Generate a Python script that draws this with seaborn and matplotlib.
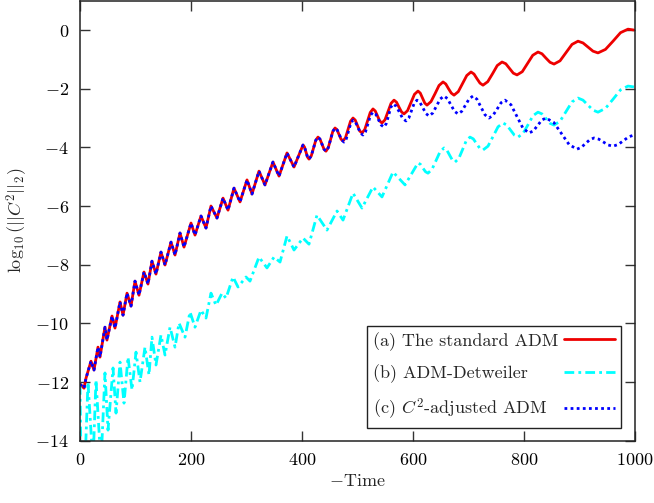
import numpy as np
import pandas as pd
import matplotlib
matplotlib.use("Agg")
import matplotlib.pyplot as plt
import seaborn as sns

# ---- data ----
# (a) standard ADM
t_a = [0, 7.2, 10.8, 19.8, 25.2, 32.4, 36.0, 45.0, 48.6, 57.7, 63.1, 72.1, 77.5, 84.7, 91.9,
       99.1, 106.3, 115.3, 122.5, 129.7, 136.9, 145.9, 153.2, 164.0, 171.2, 180.2, 187.4,
       200.0, 207.2, 218.0, 227.0, 236.0, 246.8, 257.7, 266.7, 277.5, 288.3, 300.9, 309.9,
       322.5, 333.3, 347.7, 358.6, 373.0, 385.6,
       401.8, 404.5, 407.2, 409.9, 412.6, 416.7, 420.7, 424.8, 428.8, 432.4, 436.0, 439.6,
       443.2, 447.3, 451.4, 455.4, 459.5, 463.1, 466.7, 470.3, 473.9, 478.4, 482.9, 487.4,
       491.9, 495.9, 500.0, 504.0, 508.1, 513.1, 518.0, 523.0, 527.9, 532.0, 536.0, 540.1,
       544.1, 549.5, 555.0, 560.4, 565.8, 570.3, 574.8, 579.3, 583.8, 590.1, 596.4, 602.7,
       609.0, 613.1, 617.1, 621.2, 625.2, 632.4, 639.7, 646.9, 654.1, 659.1, 664.0, 669.0,
       673.9, 681.6, 689.2, 696.9, 704.5, 709.9, 715.3, 720.7, 726.1, 734.7, 743.3, 751.8,
       760.4, 767.2, 773.9, 780.7, 787.4, 796.9, 806.3, 815.8, 825.2, 832.4, 839.7, 846.9,
       854.1, 864.9, 875.7, 886.5, 897.3, 906.3, 915.3, 924.3, 933.3, 946.8, 960.4, 973.9,
       987.4, 998.2]
c_a = [-12.07, -12.21, -11.87, -11.29, -11.59, -10.81, -11.15, -10.13, -10.57, -9.75, -10.16,
       -9.27, -9.72, -8.97, -9.41, -8.56, -9.04, -8.25, -8.66, -7.88, -8.32, -7.57, -8.01,
       -7.23, -7.67, -6.92, -7.40, -6.58, -6.99, -6.34, -6.75, -6.00, -6.41, -5.73, -6.14,
       -5.39, -5.86, -5.11, -5.59, -4.81, -5.28, -4.50, -4.98, -4.19, -4.67,
       -3.92, -3.99, -4.16, -4.33, -4.40, -4.29, -4.03, -3.76, -3.65, -3.72, -3.89, -4.06,
       -4.13, -4.01, -3.74, -3.46, -3.34, -3.40, -3.56, -3.72, -3.78, -3.67, -3.39, -3.11,
       -3.00, -3.07, -3.26, -3.44, -3.51, -3.39, -3.10, -2.81, -2.69, -2.76, -2.93, -3.10,
       -3.17, -3.06, -2.78, -2.50, -2.39, -2.46, -2.63, -2.79, -2.86, -2.75, -2.47, -2.19,
       -2.08, -2.15, -2.32, -2.49, -2.56, -2.44, -2.17, -1.89, -1.77, -1.84, -2.00, -2.15,
       -2.22, -2.10, -1.83, -1.55, -1.43, -1.50, -1.66, -1.81, -1.88, -1.76, -1.49, -1.21,
       -1.09, -1.15, -1.31, -1.47, -1.53, -1.42, -1.14, -0.86, -0.75, -0.81, -0.96, -1.10,
       -1.16, -1.05, -0.77, -0.49, -0.38, -0.44, -0.58, -0.72, -0.78, -0.66, -0.38, -0.09,
       0.03, 0.00]

# (b) ADM-Detweiler
t_b = [0, 1.8, 9.0, 14.4, 23.4, 28.8, 37.8, 45.0, 50.5, 59.5, 64.9, 72.1, 79.3, 86.5, 93.7,
       100.9, 108.1, 117.1, 124.3, 129.7, 136.9, 145.9, 153.2, 162.2, 171.2, 178.4, 189.2,
       198.2, 207.2, 218.0, 227.0, 236.0, 245.0, 255.9, 263.1, 275.7, 284.7, 299.1, 306.3,
       322.5, 336.9, 349.6, 360.4, 373.0, 385.6, 401.8, 412.6, 427.0, 445.0, 463.1, 473.9,
       491.9, 508.1, 527.9, 544.1, 564.0, 585.6,
       609.0, 613.5, 618.0, 622.5, 627.0, 634.2, 641.5, 648.7, 655.9, 660.9, 665.8, 670.8,
       675.7, 682.5, 689.2, 696.0, 702.7, 708.6, 714.4, 720.3, 726.1, 735.1, 744.2, 753.2,
       762.2, 769.0, 775.7, 782.5, 789.2, 798.2, 807.2, 816.2, 825.2, 832.4, 839.7, 846.9,
       854.1, 864.9, 875.7, 886.5, 897.3, 906.3, 915.3, 924.3, 933.3, 946.8, 960.4, 973.9,
       987.4, 998.2]
c_b = [-12.10, -14.8, -14.8, -12.00, -14.8, -11.93, -14.8, -11.69, -13.64, -11.52, -13.06,
       -11.32, -12.72, -11.15, -12.27, -10.98, -12.00, -10.81, -11.76, -10.47, -11.42, -10.40,
       -11.08, -10.13, -10.81, -9.99, -10.47, -9.61, -10.13, -9.55, -9.82, -8.97, -9.38,
       -8.97, -9.14, -8.42, -8.76, -8.42, -8.56, -7.74, -8.11, -7.74, -7.91, -7.02, -7.50,
       -7.09, -7.30, -6.31, -6.82, -6.17, -6.48, -5.56, -6.07, -5.35, -5.69, -4.84, -5.28,
       -4.53, -4.58, -4.71, -4.83, -4.88, -4.75, -4.45, -4.15, -4.02, -4.09, -4.26, -4.43,
       -4.50, -4.38, -4.08, -3.77, -3.65, -3.71, -3.87, -4.03, -4.09, -3.96, -3.63, -3.30,
       -3.17, -3.24, -3.41, -3.58, -3.65, -3.53, -3.23, -2.92, -2.80, -2.86, -3.02, -3.18,
       -3.24, -3.11, -2.78, -2.45, -2.32, -2.39, -2.56, -2.73, -2.80, -2.67, -2.36, -2.04,
       -1.91, -1.94]

# (c) C^2-adjusted ADM (identical to (a) up to t ~ 455)
t_c = t_a[:61] + [
       459.5, 463.6, 467.6, 471.6, 475.7, 479.8, 483.8, 487.9, 491.9, 496.4, 500.9, 505.4,
       509.9, 514.4, 518.9, 523.4, 527.9, 532.9, 537.8, 542.8, 547.7, 551.8, 555.9, 559.9,
       564.0, 569.9, 575.7, 581.6, 587.4, 592.4, 597.3, 602.3, 607.2, 612.6, 618.0, 623.4,
       628.8, 635.6, 642.4, 649.1, 655.9, 662.2, 668.5, 674.8, 681.1, 687.9, 694.6, 701.4,
       708.1, 715.3, 722.5, 729.7, 736.9, 744.1, 751.4, 758.6, 765.8, 776.6, 787.4, 798.2,
       809.0, 816.7, 824.3, 832.0, 839.6, 853.6, 867.6, 881.5, 895.5, 903.2, 910.8, 918.5,
       926.1, 934.7, 943.3, 951.8, 960.4, 969.9, 979.3, 988.7, 998.2]
c_c = c_a[:61] + [
       -3.34, -3.41, -3.58, -3.75, -3.82, -3.71, -3.45, -3.18, -3.07, -3.14, -3.33, -3.51,
       -3.58, -3.47, -3.19, -2.91, -2.80, -2.87, -3.06, -3.24, -3.31, -3.19, -2.92, -2.64,
       -2.52, -2.60, -2.81, -3.02, -3.10, -3.00, -2.75, -2.49, -2.39, -2.47, -2.66, -2.85,
       -2.93, -2.83, -2.59, -2.35, -2.25, -2.34, -2.56, -2.77, -2.86, -2.77, -2.56, -2.34,
       -2.25, -2.36, -2.63, -2.89, -3.00, -2.91, -2.70, -2.48, -2.39, -2.55, -2.95, -3.35,
       -3.51, -3.44, -3.26, -3.07, -3.00, -3.15, -3.53, -3.91, -4.06, -4.00, -3.87, -3.74,
       -3.68, -3.72, -3.82, -3.92, -3.96, -3.90, -3.77, -3.64, -3.58]

labels = ["(a) The standard ADM", "(b) ADM-Detweiler", r"(c) $C^2$-adjusted ADM"]
x_ticks = [0, 200, 400, 600, 800, 1000]
y_ticks = [-14, -12, -10, -8, -6, -4, -2, 0]

# ---- style ----
sns.set_theme(style="ticks")
plt.rcParams.update({
    "font.family": ["cmr10", "DejaVu Serif"],
    "mathtext.fontset": "cm",
    "axes.unicode_minus": False,
    "axes.formatter.use_mathtext": True,
    "font.size": 13,
    "axes.linewidth": 1.1,
    "axes.edgecolor": "#222222",
    "xtick.direction": "in",
    "ytick.direction": "in",
    "xtick.major.size": 7,
    "ytick.major.size": 7,
    "xtick.major.width": 1.0,
    "ytick.major.width": 1.0,
    "xtick.color": "#333333",
    "ytick.color": "#333333",
    "xtick.labelcolor": "black",
    "ytick.labelcolor": "black",
})

fig = plt.figure(figsize=(6.54, 5.03), dpi=100)
ax = fig.add_axes([80 / 654, 1 - 440.7 / 503, 555 / 654, 440 / 503])

df_a = pd.DataFrame({"t": t_a, "c": c_a})
df_b = pd.DataFrame({"t": t_b, "c": c_b})
df_c = pd.DataFrame({"t": t_c, "c": c_c})

sns.lineplot(data=df_a, x="t", y="c", ax=ax, color="#ee0000", lw=2.0, sort=False,
             estimator=None, label=labels[0], solid_joinstyle="round")
sns.lineplot(data=df_b, x="t", y="c", ax=ax, color="#00ffff", lw=2.0, sort=False,
             estimator=None, label=labels[1], linestyle=(0, (3.5, 1.5, 1, 1.5)))
sns.lineplot(data=df_c, x="t", y="c", ax=ax, color="#0000ff", lw=2.0, sort=False,
             estimator=None, label=labels[2], linestyle=(0, (1, 1.2)))

ax.set_xlim(0, 1000)
ax.set_ylim(-14, 1)
ax.set_xticks(x_ticks)
ax.set_xticklabels([f"${v}$" for v in x_ticks])
ax.set_yticks(y_ticks)
ax.set_yticklabels([f"${v}$" for v in y_ticks])
ax.tick_params(top=True, right=True, labelsize=13, pad=8)
ax.set_xlabel(r"$-$Time", fontsize=13, labelpad=4)
ax.set_ylabel(r"$\log_{10}(||C^2||_2)$", fontsize=13, labelpad=4)

leg = ax.legend(loc="lower right", bbox_to_anchor=(0.975, 0.029), markerfirst=False,
                frameon=True, fancybox=False, edgecolor="#222222", framealpha=1,
                fontsize=13, handlelength=2.8, handletextpad=0.3, labelspacing=0.75,
                borderpad=0.35, borderaxespad=0)
leg.get_frame().set_linewidth(1.0)

# left-align the legend texts while keeping the line samples in a right-hand column
fig.canvas.draw()
renderer = fig.canvas.get_renderer()
column = leg._legend_handle_box.get_children()[0]
column.align = "left"
entries = column.get_children()
widths = [t.get_window_extent(renderer).width for t in leg.get_texts()]
wmax = max(widths)
for entry, w in zip(entries, widths):
    entry.sep = 0.3 * 13 + (wmax - w) * 72.0 / fig.dpi

fig.savefig("out.png", dpi=100)
